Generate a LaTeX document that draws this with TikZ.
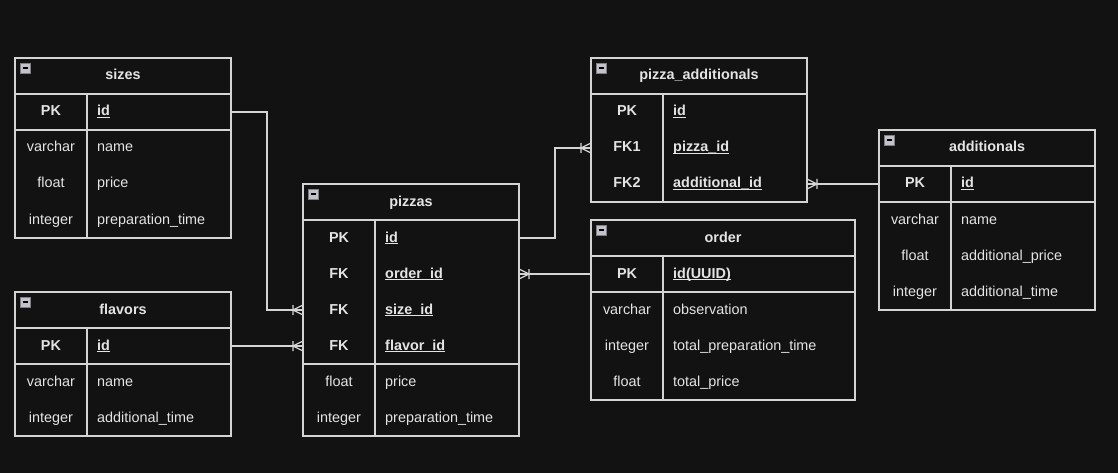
\documentclass[tikz,border=0pt]{standalone}
\usepackage{fontspec}
\setmainfont{Liberation Sans}
\definecolor{canvas}{HTML}{121212}
\definecolor{stroke}{HTML}{D4D4D4}
\definecolor{ink}{HTML}{E4E4E4}
\definecolor{foldfill}{HTML}{C2C2CC}
\newcommand{\keyfield}[1]{\setbox0\hbox{\bfseries #1}\rlap{\rule[-2pt]{\wd0}{1pt}}\box0}
\begin{document}
\begin{tikzpicture}[x=1pt, y=-1pt,
    tbl/.style={draw=stroke, line width=1.2pt, anchor=north west, inner sep=0pt, outer sep=0pt},
    grid/.style={draw=stroke, line width=1.2pt},
    type/.style={text=ink, font=\fontsize{14.4}{16}\selectfont, text height=11pt, text depth=3pt, inner sep=0pt},
    head/.style={type, font=\fontsize{14.4}{16}\selectfont\bfseries},
    field/.style={type, anchor=west},
    rel/.style={draw=stroke, line width=1.2pt},
    fold/.pic={\filldraw[fill=foldfill, draw=gray, line width=0.6pt] (5,5) rectangle (15,15);
               \draw[black, line width=1.4pt] (7.5,10) -- (12.5,10);},
    crow/.pic={\draw[stroke, line width=1.2pt] (-10,-5) -- (-10,5) (0,-5) -- (-10,0) -- (0,5);}]
    \fill[canvas] (0,0) rectangle (1118,473);
    \useasboundingbox (0,0) rectangle (1118,473);

    % sizes
    \node[tbl, minimum width=216pt, minimum height=180pt] (sizes) at (15,58) {};
    \draw[grid] (15,94) -- (231,94) (15,130) -- (231,130) (87,94) -- (87,238);
    \pic at (sizes.north west) {fold};
    \node[head] at (123,76) {sizes};
    \node[head] at (51,112) {PK};
    \node[field] (sizes-id) at (97,112) {\keyfield{id}};
    \foreach \t/\f [count=\i] in {varchar/name, float/price, integer/preparation\_time} {
        \node[type] at (51,112+36*\i) {\t};
        \node[field] at (97,112+36*\i) {\f};
    }

    % flavors
    \node[tbl, minimum width=216pt, minimum height=144pt] (flavors) at (15,292) {};
    \draw[grid] (15,328) -- (231,328) (15,364) -- (231,364) (87,328) -- (87,436);
    \pic at (flavors.north west) {fold};
    \node[head] at (123,310) {flavors};
    \node[head] at (51,346) {PK};
    \node[field] (flavors-id) at (97,346) {\keyfield{id}};
    \foreach \t/\f [count=\i] in {varchar/name, integer/additional\_time} {
        \node[type] at (51,346+36*\i) {\t};
        \node[field] at (97,346+36*\i) {\f};
    }

    % pizzas
    \node[tbl, minimum width=216pt, minimum height=252pt] (pizzas) at (303,184) {};
    \draw[grid] (303,220) -- (519,220) (303,364) -- (519,364) (375,220) -- (375,436);
    \pic at (pizzas.north west) {fold};
    \node[head] at (411,202) {pizzas};
    \foreach \k/\f/\n [count=\i] in {PK/id/id, FK/order\_id/order, FK/size\_id/size, FK/flavor\_id/flavor} {
        \node[head] at (339,202+36*\i) {\k};
        \node[field] (pizzas-\n) at (385,202+36*\i) {\keyfield{\f}};
    }
    \foreach \t/\f [count=\i] in {float/price, integer/preparation\_time} {
        \node[type] at (339,346+36*\i) {\t};
        \node[field] at (385,346+36*\i) {\f};
    }

    % pizza_additionals
    \node[tbl, minimum width=216pt, minimum height=144pt] (pizzadd) at (591,58) {};
    \draw[grid] (591,94) -- (807,94) (663,94) -- (663,202);
    \pic at (pizzadd.north west) {fold};
    \node[head] at (699,76) {pizza\_additionals};
    \foreach \k/\f/\n [count=\i] in {PK/id/id, FK1/pizza\_id/pizza, FK2/additional\_id/add} {
        \node[head] at (627,76+36*\i) {\k};
        \node[field] (pizzadd-\n) at (673,76+36*\i) {\keyfield{\f}};
    }

    % order
    \node[tbl, minimum width=264pt, minimum height=180pt] (order) at (591,220) {};
    \draw[grid] (591,256) -- (855,256) (591,292) -- (855,292) (663,256) -- (663,400);
    \pic at (order.north west) {fold};
    \node[head] at (723,238) {order};
    \node[head] at (627,274) {PK};
    \node[field] (order-id) at (673,274) {\keyfield{id(UUID)}};
    \foreach \t/\f [count=\i] in {varchar/observation, integer/total\_preparation\_time, float/total\_price} {
        \node[type] at (627,274+36*\i) {\t};
        \node[field] at (673,274+36*\i) {\f};
    }

    % additionals
    \node[tbl, minimum width=216pt, minimum height=180pt] (additionals) at (879,130) {};
    \draw[grid] (879,166) -- (1095,166) (879,202) -- (1095,202) (951,166) -- (951,310);
    \pic at (additionals.north west) {fold};
    \node[head] at (987,148) {additionals};
    \node[head] at (915,184) {PK};
    \node[field] (additionals-id) at (961,184) {\keyfield{id}};
    \foreach \t/\f [count=\i] in {varchar/name, float/additional\_price, integer/additional\_time} {
        \node[type] at (915,184+36*\i) {\t};
        \node[field] at (961,184+36*\i) {\f};
    }

    % relations
    \draw[rel] (sizes.east |- sizes-id) -- ++(36,0) |- (pizzas.west |- pizzas-size) pic {crow};
    \draw[rel] (flavors.east |- flavors-id) -- (pizzas.west |- pizzas-flavor) pic {crow};
    \draw[rel] (pizzas.east |- pizzas-id) -- ++(36,0) |- (pizzadd.west |- pizzadd-pizza) pic {crow};
    \draw[rel] (order.west |- order-id) -- (pizzas.east |- pizzas-order) pic[rotate=180] {crow};
    \draw[rel] (additionals.west |- additionals-id) -- (pizzadd.east |- pizzadd-add) pic[rotate=180] {crow};
\end{tikzpicture}
\end{document}
